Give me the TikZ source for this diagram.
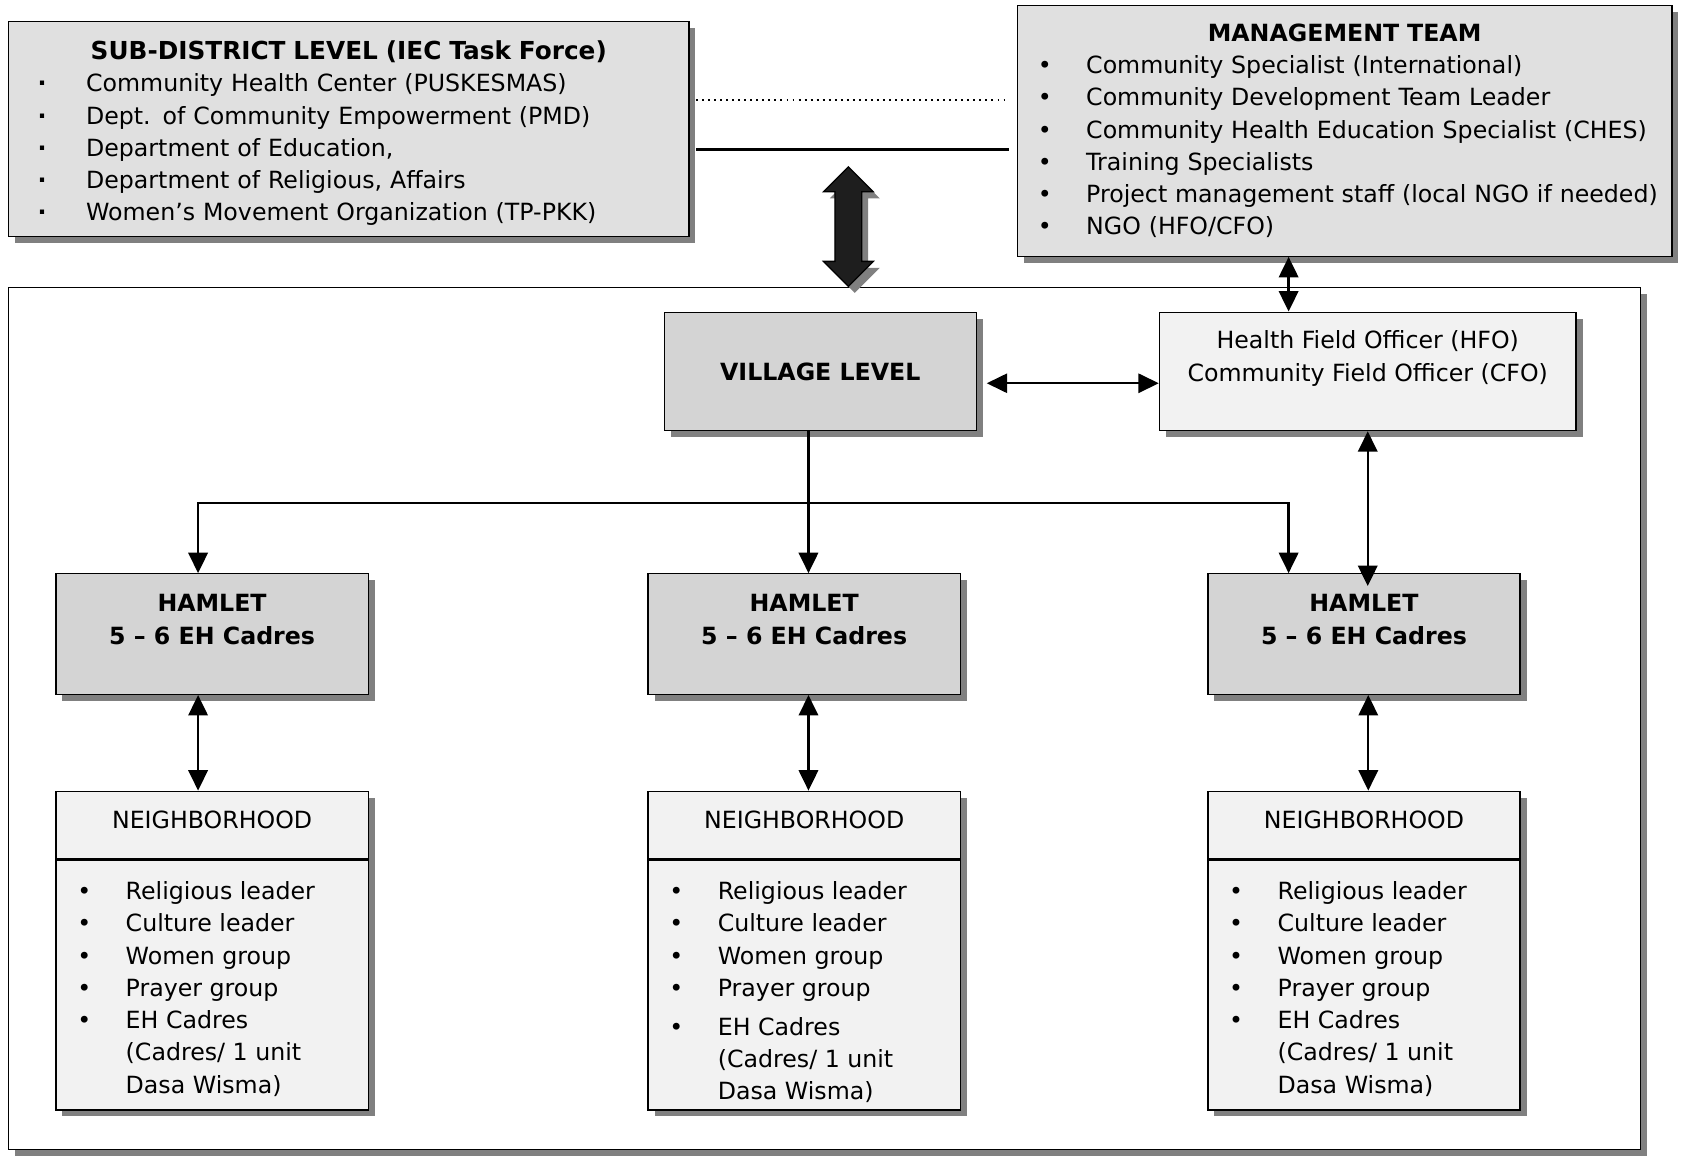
\documentclass[tikz,border=0pt]{standalone}
\usepackage{fontspec}
\setmainfont{DejaVu Sans}
\usepackage{xcolor}
\usetikzlibrary{arrows.meta, positioning, calc, shadows, shapes.arrows}
\definecolor{grisoscuro}{HTML}{D4D4D4}
\definecolor{grismedio}{HTML}{E0E0E0}
\definecolor{grisclaro}{HTML}{F2F2F2}
\definecolor{sombra}{HTML}{808080}
\definecolor{casinegro}{HTML}{1E1E1E}
\newcommand{\letra}{\fontsize{11pt}{15pt}\selectfont}
\newcommand{\bala}[1]{\mbox{\makebox[22.5pt][l]{\textbullet}#1}}
\newcommand{\punto}[1]{\mbox{\makebox[22.5pt][l]{\bfseries\textperiodcentered}#1}}
\newcommand{\sangria}{\hspace*{22.5pt}}
\tikzset{
  sombreada/.style={drop shadow={shadow xshift=3pt, shadow yshift=-3pt, fill=sombra, opacity=1}},
  caja/.style={draw=black, line width=0.6pt, inner sep=0pt, sombreada, font=\letra},
  arriba/.style={caja, fill=grismedio},
  nivel/.style={caja, fill=grisoscuro, minimum width=145pt, minimum height=55pt, font=\letra\bfseries},
  oficina/.style={caja, fill=grisclaro, minimum width=193.5pt, minimum height=55pt},
  aldea/.style={caja, fill=grisoscuro, minimum width=145pt, minimum height=56pt},
  vecindario/.style={caja, fill=grisclaro, minimum width=145pt, minimum height=148pt},
  marco/.style={draw=black, line width=0.6pt, fill=white, inner sep=0pt, sombreada,
                minimum width=758pt, minimum height=400.5pt},
  grande/.style={double arrow, rotate=90, draw=black, line width=0.6pt, fill=casinegro,
                 sombreada, inner xsep=0pt, inner ysep=5.9pt, minimum height=55.5pt, minimum width=22.6pt,
                 double arrow head extend=5.4pt},
  texto/.style={inner sep=0pt, font=\letra, align=center},
  lista/.style={inner sep=0pt, font=\letra, align=left, anchor=north west},
  separa/.style={line width=1pt},
  linea/.style={line width=1.1pt},
  punteada/.style={line width=0.9pt, dash pattern=on 0.9pt off 1.9pt},
  flecha/.style={-{Triangle[width=9pt,length=9.5pt]}, line width=1.1pt},
  flechad/.style={{Triangle[width=9pt,length=9.5pt]}-{Triangle[width=9pt,length=9.5pt]}, line width=1.1pt},
}
\begin{document}
\begin{tikzpicture}[x=0.5pt, y=-0.5pt]
  \useasboundingbox (0,0) rectangle (1568,1073);
  % recuadro del nivel de aldea
  \node[marco] (marco) at (766,667.5) {};

  % nivel de subdistrito y equipo de gestion
  \node[arriba, minimum width=316pt, minimum height=100pt, text width=289pt, inner xsep=13.5pt] (sub) at (324,120) {%
    {\centering\fontsize{11.5pt}{15pt}\selectfont\bfseries\rule{0pt}{12.5pt}SUB-DISTRICT LEVEL (IEC Task Force)\par}
    \punto{Community Health Center (PUSKESMAS)}\\
    \punto{Dept. of Community Empowerment (PMD)}\\
    \punto{Department of Education,}\\
    \punto{Department of Religious, Affairs}\\
    \punto{Women’s Movement Organization (TP-PKK)}};
  \node[arriba, minimum width=304pt, minimum height=116.5pt, text width=285pt, inner xsep=9.5pt] (mgmt) at (1249,121.5) {%
    {\centering\bfseries MANAGEMENT TEAM\par}
    \bala{Community Specialist (International)}\\
    \bala{Community Development Team Leader}\\
    \bala{Community Health Education Specialist (CHES)}\\
    \bala{Training Specialists}\\
    \bala{Project management staff (local NGO if needed)}\\
    \bala{NGO (HFO/CFO)}};
  \coordinate (yp) at (0,93);
  \coordinate (yl) at (0,139);
  \draw[punteada] ($(sub.east |- yp)+(6,0)$) -- ($(mgmt.west |- yp)+(-12,0)$);
  \draw[linea] ($(sub.east |- yl)+(6,0)$) -- ($(mgmt.west |- yl)+(-7,0)$);
  \node[grande] (enlace) at (788,210.5) {};

  % nivel de aldea
  \node[nivel] (vl) at (762,345) {VILLAGE LEVEL};
  \node[oficina] (hfo) at (1270.5,345) {};
  \node[texto] (thfo) at ($(hfo.center)+(0,-12)$) {Health Field Officer (HFO)\\Community Field Officer (CFO)};
  \draw[flechad, line width=0.9pt] ($(vl.east)+(9,11)$) -- ($(hfo.west)+(0,11)$);

  % caserios y vecindarios
  \foreach \i/\x/\f/\e in {1/197/184/0, 2/747/751/3, 3/1267/1271/0}{
    \node[aldea] (hm\i) at (\x,589) {};
    \node[texto, font=\letra\bfseries] (th\i) at ($(hm\i.center)+(0,-13.5)$) {HAMLET\\5 – 6 EH Cadres};
    \node[vecindario] (nb\i) at (\x,883) {};
    \node[texto] (tn\i) at ($(nb\i.north)+(0,27)$) {NEIGHBORHOOD};
    \draw[separa] ($(nb\i.north west)+(0,64)$) -- ($(nb\i.north east)+(0,64)$);
    \node[lista] (ln\i) at ($(nb\i.north west)+(20,84)$) {\bala{Religious leader}\\ \bala{Culture leader}\\
      \bala{Women group}\\ \bala{Prayer group}\\[\e pt] \bala{EH Cadres}\\ \sangria(Cadres/ 1 unit\\ \sangria Dasa Wisma)};
    \coordinate (f\i) at (\f,0);
    \draw[flechad] (hm\i.south -| f\i) -- (nb\i.north -| f\i);
  }

  \coordinate (b1) at (184,467);
  \coordinate (b2) at (751,467);
  \coordinate (b3) at (1197,467);
  \draw[flecha] (b2) -- (b1) -- (hm1.north -| b1);
  \draw[flecha] (b2) -- (b3) -- (hm3.north -| b3);
  \draw[flecha] (vl.south -| b2) -- (hm2.north -| b2);
  \draw[flechad] (mgmt.south -| b3) -- (hfo.north -| b3);
  \draw[flechad] (hfo.south) -- ($(hm3.north -| hfo.south)+(0,12)$);
\end{tikzpicture}
\end{document}
